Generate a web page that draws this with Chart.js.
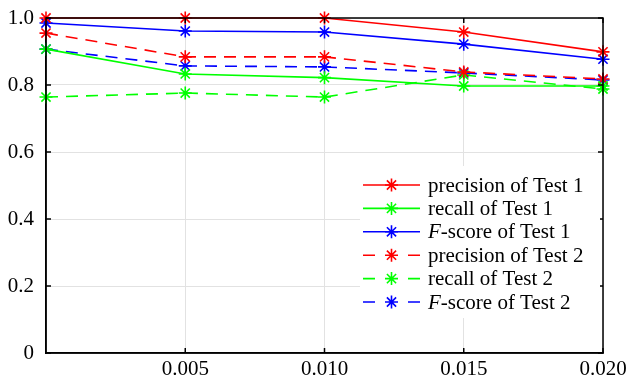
<!DOCTYPE html>
<html>
<head>
<meta charset="utf-8">
<script src="https://cdn.jsdelivr.net/npm/chart.js@4.4.1/dist/chart.umd.min.js"></script>
<style>
  html, body { margin: 0; padding: 0; background: #fff; }
  #wrap { width: 628px; height: 383px; }
</style>
</head>
<body>
<div id="wrap"><canvas id="chart" width="628" height="383"></canvas></div>
<script>
// values
const xs = [0, 0.005, 0.010, 0.015, 0.020]
const precision1 = [1.0, 1.0, 1.0, 0.958, 0.899]
const recall1 = [0.907, 0.833, 0.822, 0.797, 0.797]
const fscore1 = [0.985, 0.961, 0.958, 0.922, 0.877]
const precision2 = [0.955, 0.884, 0.884, 0.839, 0.818]
const recall2 = [0.764, 0.776, 0.764, 0.830, 0.788]
const fscore2 = [0.907, 0.857, 0.854, 0.836, 0.815]
const xTicks = [0.005, 0.010, 0.015, 0.020]
const yTicks = [0, 0.2, 0.4, 0.6, 0.8, 1.0]

const FONT = '"Liberation Serif", "Times New Roman", serif'
const FSIZE = 21
const DASH = [12, 8]

const series = [
  { label: 'precision of Test 1', data: precision1, color: '#ff0000', dash: [] },
  { label: 'recall of Test 1', data: recall1, color: '#00ff00', dash: [] },
  { label: 'F-score of Test 1', data: fscore1, color: '#0000ff', dash: [] },
  { label: 'precision of Test 2', data: precision2, color: '#ff0000', dash: DASH },
  { label: 'recall of Test 2', data: recall2, color: '#00ff00', dash: DASH },
  { label: 'F-score of Test 2', data: fscore2, color: '#0000ff', dash: DASH },
]

const datasets = series.map(s => ({
  label: s.label,
  data: xs.map((x, i) => ({ x: x, y: s.data[i] })),
  borderColor: s.color,
  borderWidth: 1.6,
  borderDash: s.dash,
  pointStyle: 'star',
  pointRadius: 6.5,
  pointBorderWidth: 1.6,
  pointBorderColor: s.color,
  pointBackgroundColor: s.color,
  pointHoverRadius: 6.5,
  tension: 0,
  fill: false,
  clip: false
}))

// frame, inward ticks and the boxed legend
const framePlugin = {
  id: 'frame',
  afterDraw(chart) {
    const ctx = chart.ctx
    const a = chart.chartArea
    const xScale = chart.scales.x
    const yScale = chart.scales.y
    ctx.save()
    ctx.strokeStyle = '#000'
    ctx.lineWidth = 1.5
    ctx.strokeRect(a.left, a.top, a.right - a.left, a.bottom - a.top)
    ctx.beginPath()
    xTicks.forEach(v => {
      const px = xScale.getPixelForValue(v)
      ctx.moveTo(px, a.bottom); ctx.lineTo(px, a.bottom - 5)
      ctx.moveTo(px, a.top); ctx.lineTo(px, a.top + 5)
    })
    yTicks.forEach(v => {
      const py = yScale.getPixelForValue(v)
      ctx.moveTo(a.left, py); ctx.lineTo(a.left + 5, py)
      ctx.moveTo(a.right, py); ctx.lineTo(a.right - 5, py)
    })
    ctx.stroke()

    // legend
    const lx = 360, ly = 166, lw = 240, lh = 152
    ctx.fillStyle = '#fff'
    ctx.fillRect(lx, ly, lw, lh)
    const rowY = 185, rowH = 23.4
    series.forEach((s, i) => {
      const y = rowY + i * rowH
      ctx.strokeStyle = s.color
      ctx.lineWidth = 1.6
      ctx.setLineDash(s.dash.length ? [12, 33] : [])
      ctx.beginPath()
      ctx.moveTo(363, y); ctx.lineTo(420, y)
      ctx.stroke()
      ctx.setLineDash([])
      Chart.helpers.drawPoint(ctx, { pointStyle: 'star', radius: 6.5, rotation: 0, borderWidth: 1.6 }, 391.5, y)
      ctx.fillStyle = '#000'
      ctx.textBaseline = 'middle'
      ctx.textAlign = 'left'
      let tx = 428
      let text = s.label
      if (text.startsWith('F-')) {
        ctx.font = 'italic ' + FSIZE + 'px ' + FONT
        ctx.fillText('F', tx, y + 1)
        tx += ctx.measureText('F').width
        text = text.slice(1)
      }
      ctx.font = FSIZE + 'px ' + FONT
      ctx.fillText(text, tx, y + 1)
    })
    ctx.restore()
  }
}

new Chart(document.getElementById('chart'), {
  type: 'line',
  data: { datasets: datasets },
  options: {
    responsive: false,
    animation: false,
    events: [],
    layout: { padding: { top: 18, right: 25, left: 0, bottom: 0 } },
    plugins: {
      legend: { display: false },
      tooltip: { enabled: false }
    },
    scales: {
      x: {
        type: 'linear',
        min: 0,
        max: 0.02,
        afterFit: s => { s.height = 30; s.paddingLeft = 0; s.paddingRight = 0 },
        afterBuildTicks: s => { s.ticks = [0].concat(xTicks).map(v => ({ value: v })) },
        ticks: {
          padding: 4,
          color: '#000',
          font: { family: FONT, size: FSIZE },
          callback: v => v === 0 ? '' : v.toFixed(3)
        },
        grid: { color: '#e2e2e2', lineWidth: 1, drawTicks: false },
        border: { color: '#000', width: 1.5 }
      },
      y: {
        min: 0,
        max: 1,
        afterFit: s => { s.width = 46; s.paddingTop = 0; s.paddingBottom = 0 },
        afterBuildTicks: s => { s.ticks = yTicks.map(v => ({ value: v })) },
        ticks: {
          padding: 12,
          color: '#000',
          font: { family: FONT, size: FSIZE },
          callback: v => v === 0 ? '0' : v.toFixed(1)
        },
        grid: { color: '#e2e2e2', lineWidth: 1, drawTicks: false },
        border: { color: '#000', width: 1.5 }
      }
    }
  },
  plugins: [framePlugin]
})
</script>
</body>
</html>
